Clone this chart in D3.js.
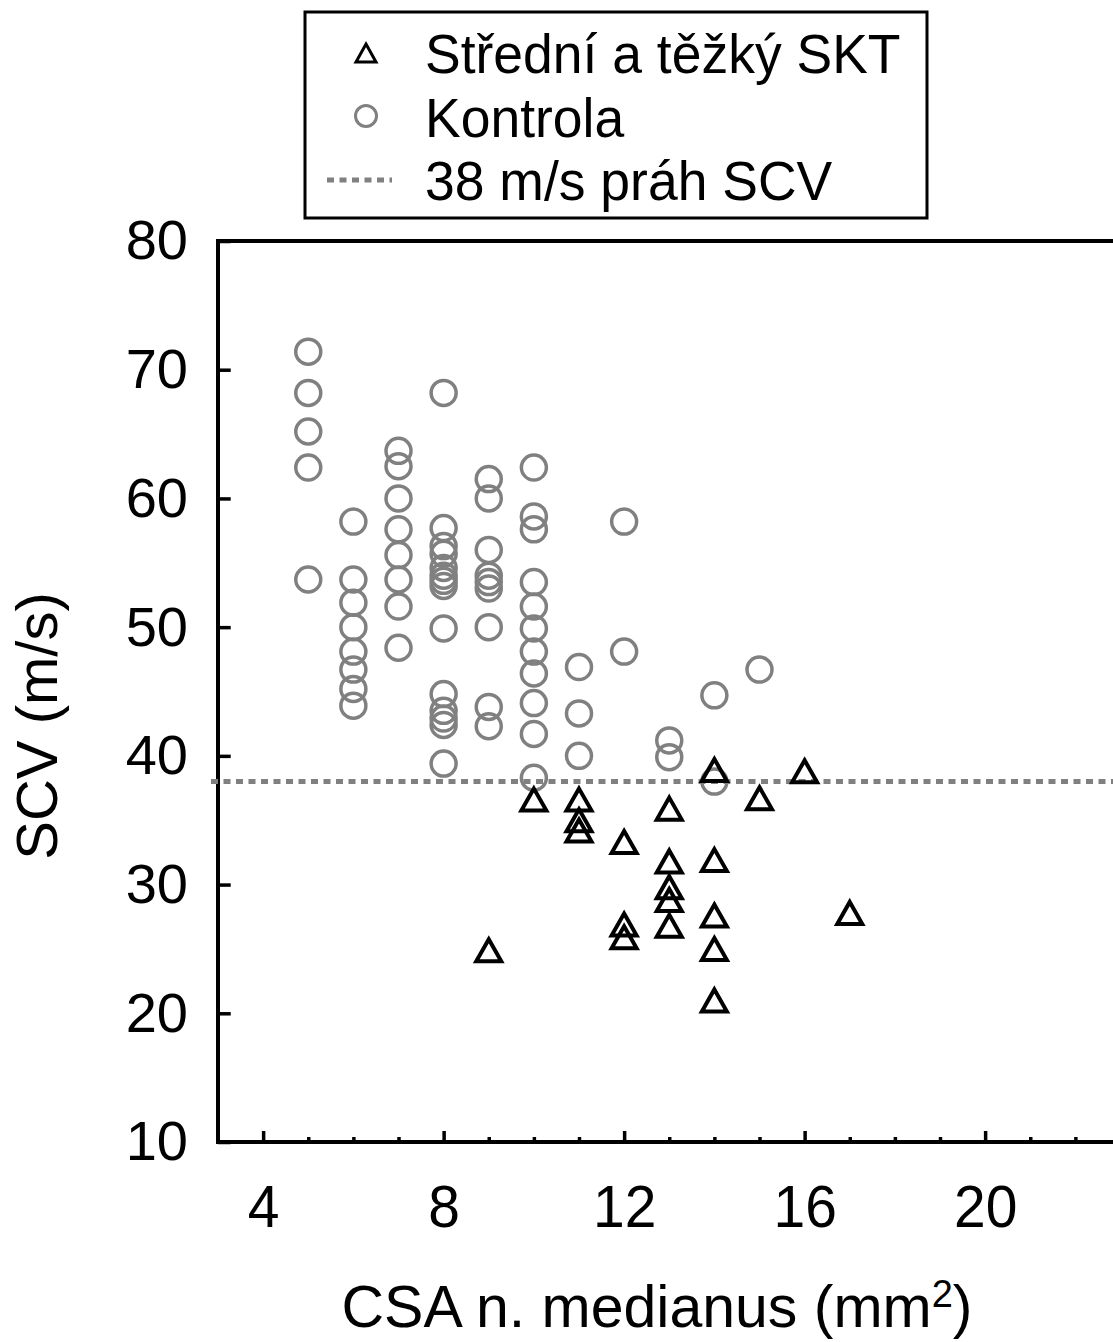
<!DOCTYPE html>
<html>
<head>
<meta charset="utf-8">
<script src="https://cdn.jsdelivr.net/npm/d3@7"></script>
<style>
  body { margin: 0; background: #fff; }
  svg { display: block; font-family: "Liberation Sans", Arial, sans-serif; }
</style>
</head>
<body>
<div id="chart"></div>
<script>
// Kontrola (kruhy)
const kontrolaCSA = [5, 5, 5, 5, 5,
  6, 6, 6, 6, 6, 6, 6, 6,
  7, 7, 7, 7, 7, 7, 7, 7,
  8, 8, 8, 8, 8, 8, 8, 8, 8, 8, 8, 8, 8, 8,
  9, 9, 9, 9, 9, 9, 9, 9, 9,
  10, 10, 10, 10, 10, 10, 10, 10, 10, 10, 10,
  11, 11, 11,
  12, 12,
  13, 13,
  14, 14,
  15];
const kontrolaSCV = [71.4, 68.2, 65.2, 62.4, 53.7,
  58.2, 53.7, 51.9, 50.0, 48.1, 46.7, 45.2, 43.9,
  63.7, 62.5, 60.0, 57.6, 55.6, 53.7, 51.6, 48.4,
  68.2, 57.7, 56.3, 55.7, 54.6, 54.0, 53.6, 53.2, 49.9, 44.8, 43.5, 42.9, 42.4, 39.4,
  61.5, 60.0, 56.0, 54.0, 53.5, 53.0, 50.0, 43.8, 42.3,
  62.4, 58.6, 57.6, 53.5, 51.6, 49.9, 48.1, 46.4, 44.1, 41.7, 38.3,
  46.9, 43.3, 40.0,
  58.2, 48.1,
  41.2, 39.9,
  44.7, 38.0,
  46.7];

// Střední a těžký SKT (trojúhelníky)
const sktCSA = [9, 10, 11, 11, 11, 12, 12, 12, 13, 13, 13, 13, 13, 14, 14, 14, 14, 14, 15, 16, 17];
const sktSCV = [24.9, 36.6, 36.6, 35.0, 34.2, 33.3, 26.9, 25.9, 35.9, 31.8, 29.8, 28.8, 26.8,
  38.9, 31.9, 27.6, 25.0, 21.0, 36.7, 38.8, 27.8];

const xTicks = [4, 8, 12, 16, 20];
const yTicks = [10, 20, 30, 40, 50, 60, 70, 80];
const prahSCV = 38;
const legendLabels = ['Střední a těžký SKT', 'Kontrola', '38 m/s práh SCV'];

const svgWidth = 1113;
const svgHeight = 1342;
const margin = { top: 241, left: 218 };
const width = 902.5;
const height = 901;
const grey = '#808080';

const svg = d3.select('#chart')
  .append('svg')
  .attr('width', svgWidth)
  .attr('height', svgHeight);

const g = svg.append('g')
  .attr('transform', `translate(${margin.left},${margin.top})`);

const x = d3.scaleLinear().domain([3, 23]).range([0, width]);
const y = d3.scaleLinear().domain([10, 80]).range([height, 0]);

// vedlejší značky osy X
g.append('g')
  .attr('transform', `translate(0,${height})`)
  .call(d3.axisBottom(x).tickValues(d3.range(5, 23).filter(v => v % 4 !== 0)).tickSize(-5).tickFormat(''))
  .call(a => a.select('.domain').remove())
  .selectAll('line').attr('stroke', '#000').attr('stroke-width', 3.5);

// osa X
const xAxis = g.append('g')
  .attr('transform', `translate(0,${height})`)
  .call(d3.axisBottom(x).tickValues(xTicks).tickSize(-11).tickPadding(42).tickFormat(d3.format('d')))
  .call(a => a.select('.domain').remove());
xAxis.selectAll('line').attr('stroke', '#000').attr('stroke-width', 3.5);
xAxis.selectAll('text')
  .attr('fill', '#000')
  .style('font-size', '60px')
  .style('font-family', '"Liberation Sans", Arial, sans-serif')
  .attr('transform', 'scale(0.95,1)');

// osa Y
const yAxis = g.append('g')
  .call(d3.axisLeft(y).tickValues(yTicks).tickSize(-12.7).tickPadding(30).tickFormat(d3.format('d')))
  .call(a => a.select('.domain').remove());
yAxis.selectAll('line').attr('stroke', '#000').attr('stroke-width', 3.5);
yAxis.selectAll('text')
  .attr('fill', '#000')
  .style('font-size', '56px')
  .style('font-family', '"Liberation Sans", Arial, sans-serif');

// rámeček
g.append('path')
  .attr('d', `M${x(23)},${y(80)}H${x(3)}V${y(10)}H${x(23)}`)
  .attr('fill', 'none')
  .attr('stroke', '#000')
  .attr('stroke-width', 4)
  .attr('stroke-linecap', 'square');

// kontrola
g.selectAll('.kontrola')
  .data(d3.zip(kontrolaCSA, kontrolaSCV))
  .enter().append('circle')
  .attr('class', 'kontrola')
  .attr('cx', d => x(d[0]))
  .attr('cy', d => y(d[1]))
  .attr('r', 12.5)
  .attr('fill', 'none')
  .attr('stroke', grey)
  .attr('stroke-width', 3.5);

// práh
g.append('line')
  .attr('x1', x(3) - 7)
  .attr('x2', width)
  .attr('y1', y(prahSCV))
  .attr('y2', y(prahSCV))
  .attr('stroke', grey)
  .attr('stroke-width', 5)
  .attr('stroke-dasharray', '7,5.5');

// SKT
const tri = 'M0,-11L12.5,11L-12.5,11Z';
g.selectAll('.skt')
  .data(d3.zip(sktCSA, sktSCV))
  .enter().append('path')
  .attr('class', 'skt')
  .attr('d', tri)
  .attr('transform', d => `translate(${x(d[0])},${y(d[1])})`)
  .attr('fill', 'none')
  .attr('stroke', '#000')
  .attr('stroke-width', 4);

// popisky os
svg.append('text')
  .attr('transform', 'translate(57,726) rotate(-90)')
  .attr('text-anchor', 'middle')
  .style('font-size', '58px')
  .text('SCV (m/s)');

const xt = svg.append('text')
  .attr('x', 657)
  .attr('y', 1327)
  .attr('text-anchor', 'middle')
  .style('font-size', '59px');
xt.append('tspan').text('CSA n. medianus (mm');
xt.append('tspan').attr('dy', -20).style('font-size', '38px').text('2');
xt.append('tspan').attr('dy', 20).text(')');

// legenda
const leg = svg.append('g');
leg.append('rect')
  .attr('x', 305).attr('y', 12)
  .attr('width', 622).attr('height', 206)
  .attr('fill', '#fff')
  .attr('stroke', '#000')
  .attr('stroke-width', 3);

leg.append('path')
  .attr('d', 'M0,-9L10,9L-10,9Z')
  .attr('transform', 'translate(366,53)')
  .attr('fill', 'none')
  .attr('stroke', '#000')
  .attr('stroke-width', 3);
leg.append('circle')
  .attr('cx', 366).attr('cy', 116).attr('r', 10.5)
  .attr('fill', 'none')
  .attr('stroke', grey)
  .attr('stroke-width', 3);
leg.append('line')
  .attr('x1', 327).attr('x2', 392)
  .attr('y1', 180).attr('y2', 180)
  .attr('stroke', grey)
  .attr('stroke-width', 5)
  .attr('stroke-dasharray', '7,5.5');

const baselines = [73, 137, 200];
legendLabels.forEach((t, i) => {
  leg.append('text')
    .attr('transform', `translate(425,${baselines[i]}) scale(0.955,1)`)
    .style('font-size', '56px')
    .text(t);
});
</script>
</body>
</html>
